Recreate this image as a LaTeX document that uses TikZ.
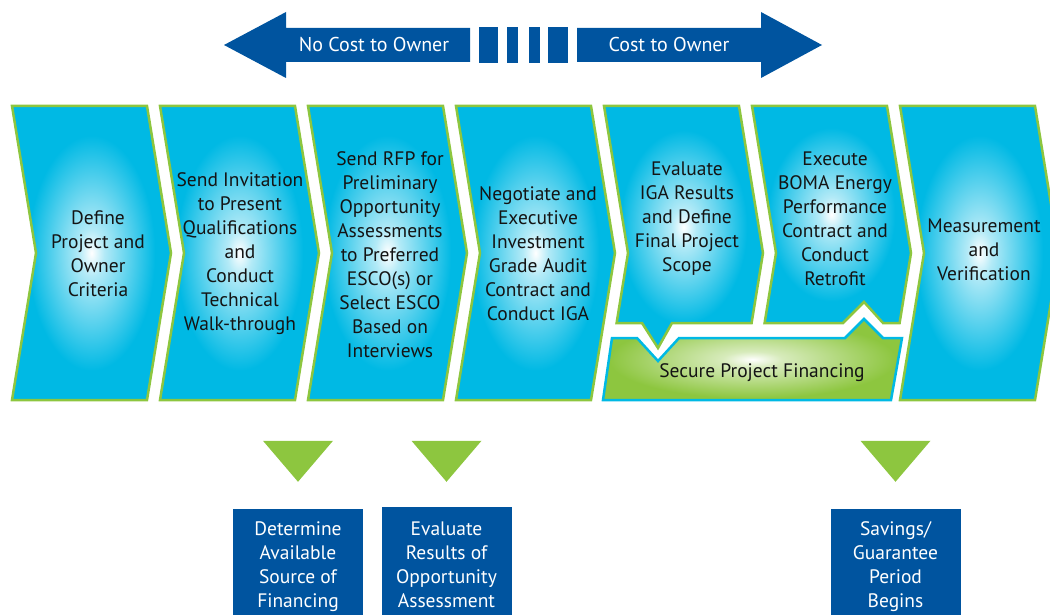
\documentclass[tikz,border=0pt]{standalone}
\usepackage{fontspec}
\setmainfont{PT Sans}
\usepackage{tikz}
\usetikzlibrary{positioning}

\definecolor{cyanfill}{RGB}{0,185,228}
\definecolor{greenline}{RGB}{141,198,63}
\definecolor{darkblue}{RGB}{0,84,159}
\definecolor{textdark}{RGB}{20,20,20}

\pgfdeclareradialshading{glowcyan}{\pgfpoint{0bp}{0bp}}{color(0bp)=(white); color(4bp)=(cyanfill!30!white); color(20bp)=(cyanfill); color(50bp)=(cyanfill)}
\pgfdeclareradialshading{glowgreen}{\pgfpoint{0bp}{0bp}}{color(0bp)=(white); color(5bp)=(greenline!35!white); color(24bp)=(greenline); color(50bp)=(greenline)}

\tikzset{
  chevron/.style={draw=greenline, line width=2.5pt, line join=miter, shade, shading=glowcyan},
  steptext/.style={align=center, text=textdark, font=\fontsize{19.5}{24}\selectfont},
  bartext/.style={align=center, text=white, font=\fontsize{20}{24}\selectfont},
  resultbox/.style={fill=darkblue, text=white, align=center, minimum width=130pt,
    minimum height=116pt, inner sep=0pt, font=\fontsize{19.5}{24}\selectfont},
}

\begin{document}
\begin{tikzpicture}[x=1pt,y=-1pt]
\useasboundingbox (0,0) rectangle (1050,615);

% cost arrow on top
\fill[darkblue] (224,45) -- (286,12) -- (286,28) -- (470,28) -- (470,62) -- (286,62) -- (286,78) -- cycle;
\fill[darkblue] (822,45) -- (761,12) -- (761,28) -- (577,28) -- (577,62) -- (761,62) -- (761,78) -- cycle;
\foreach \a/\b in {479/498,507/518,529/540,548/568}
  \fill[darkblue] (\a,27) rectangle (\b,63);
\node[bartext] (nocost) at (374,45) {No Cost to Owner};
\node[bartext] (cost) at (669,45) {Cost to Owner};

% full chevrons
\foreach \x in {12,160,308,456,900}
  \path[chevron]
    (\x,106) -- ++(135,0) -- ++(24,147) -- ++(-24,147) -- ++(-135,0) -- ++(24,-147) -- cycle;

% short chevrons above the financing bar
\path[chevron]
  (604,106) -- (739,106) -- (763,253) -- (751.6,323) -- (672,323) -- (658,348) -- (642,323)
  -- (616.6,323) -- (628,253) -- cycle;
\path[chevron]
  (752,106) -- (887,106) -- (911,253) -- (899.6,323) -- (883,323) -- (864,302) -- (843,323)
  -- (764.6,323) -- (776,253) -- cycle;

% financing bar
\path[draw=cyanfill, line width=2.5pt, line join=miter, shade, shading=glowgreen]
  (612,338) -- (637,338) -- (658,361) -- (679,338) -- (845,338) -- (864,319) -- (883,338)
  -- (902,338) -- (891,400) -- (603,400) -- cycle;

% step labels
\node[steptext] (define) at (98,254) {Define\\Project and\\Owner\\Criteria};
\node[steptext] (invite) at (240,254) {Send Invitation\\to Present\\Qualifications\\and\\Conduct\\Technical\\Walk-through};
\node[steptext] (rfp) at (390,255) {Send RFP for\\Preliminary\\Opportunity\\Assessments\\to Preferred\\ESCO(s) or\\Select ESCO\\Based on\\Interviews};
\node[steptext] (negotiate) at (538,254) {Negotiate and\\Executive\\Investment\\Grade Audit\\Contract and\\Conduct IGA};
\node[steptext] (evaliga) at (687,219) {Evaluate\\IGA Results\\and Define\\Final Project\\Scope};
\node[steptext] (execute) at (835,219) {Execute\\BOMA Energy\\Performance\\Contract and\\Conduct\\Retrofit};
\node[steptext] (mv) at (984,250) {Measurement\\and\\Verification};
\node[steptext] (financing) at (762,373) {Secure Project Financing};

% results below
\node[resultbox] (determine) at (298,567) {Determine\\Available\\Source of\\Financing};
\node[resultbox] (evalres) at (446.5,565) {Evaluate\\Results of\\Opportunity\\Assessment};
\node[resultbox] (savings) at (895.5,567) {Savings/\\Guarantee\\Period\\Begins};
\foreach \b in {determine,savings}
  \fill[greenline] (\b.north) ++(-35,-68) -- ++(70,0) -- ++(-35,41) -- cycle;
\fill[greenline] (evalres.north) ++(-35,-66) -- ++(70,0) -- ++(-35,41) -- cycle;
\end{tikzpicture}
\end{document}
